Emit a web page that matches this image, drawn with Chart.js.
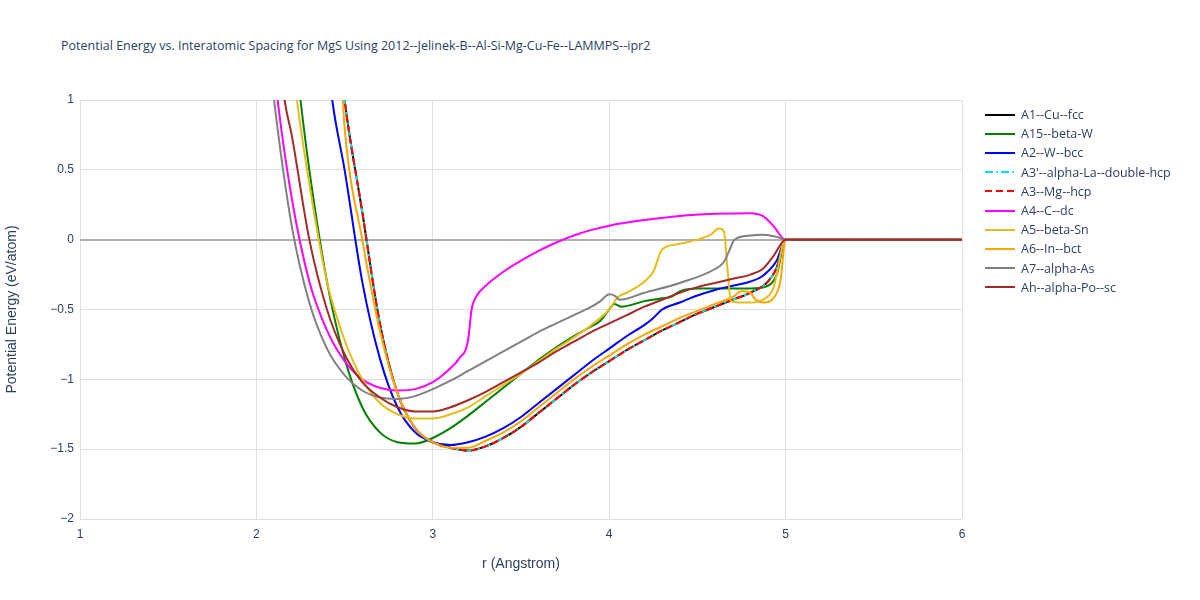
<!DOCTYPE html><html><head><meta charset="utf-8">
<script src="https://cdn.jsdelivr.net/npm/chart.js@4"></script>
<style>body{margin:0;background:#fff;font-family:"Open Sans",sans-serif}
#t{position:absolute;left:61px;top:37px;font-size:12.5px;color:#2a3f5f}
#lg{position:absolute;left:985px;top:105px;font-size:12.5px;color:#2a3f5f}
#lg div{height:19.2px;display:flex;align-items:center}
#lg canvas{margin-right:6px}
</style></head><body>
<div id="t">Potential Energy vs. Interatomic Spacing for MgS Using 2012--Jelinek-B--Al-Si-Mg-Cu-Fe--LAMMPS--ipr2</div>
<div style="position:absolute;left:0;top:0;width:1200px;height:600px"><canvas id="c" width="1200" height="600"></canvas></div>
<div id="lg"></div>
<script>
const labels=["A1--Cu--fcc","A15--beta-W","A2--W--bcc","A3'--alpha-La--double-hcp","A3--Mg--hcp","A4--C--dc","A5--beta-Sn","A6--In--bct","A7--alpha-As","Ah--alpha-Po--sc"];
const colors=["#000000","#008000","#0000ff","#00e5e5","#ff0000","#ff00ff","#e6bc1a","#ffa500","#808080","#a52a2a"];
const dashes=[[],[],[],[8,3,2,3],[7,4],[],[],[],[],[]];
const hcpR=[2.45,2.5,2.6,2.7,2.8,2.9,3.0,3.1,3.2,3.3,3.4,3.5,3.6,3.7,3.8,3.9,4.0,4.1,4.2,4.3,4.4,4.5,4.6,4.7,4.8,4.9,4.95,5.0,6.0];
const hcpE=[1.6,1.0,0.2,-0.6,-1.1,-1.35,-1.45,-1.49,-1.51,-1.48,-1.42,-1.34,-1.24,-1.14,-1.04,-0.95,-0.87,-0.79,-0.72,-0.65,-0.59,-0.53,-0.48,-0.43,-0.38,-0.30,-0.2,0,0];
const a15R=[2.2,2.25,2.3,2.4,2.5,2.6,2.7,2.8,2.9,3.0,3.1,3.2,3.3,3.4,3.5,3.6,3.7,3.8,3.9,3.95,4.0,4.03,4.07,4.2,4.3,4.35,4.4,4.5,4.8,4.9,4.95,5.0,6.0];
const a15E=[1.6,1.0,0.5,-0.3,-0.85,-1.2,-1.38,-1.45,-1.46,-1.42,-1.35,-1.26,-1.16,-1.06,-0.96,-0.86,-0.77,-0.69,-0.62,-0.58,-0.5,-0.46,-0.48,-0.44,-0.42,-0.41,-0.37,-0.35,-0.35,-0.33,-0.25,0,0];
const a2R=[2.38,2.43,2.5,2.6,2.7,2.8,2.9,3.0,3.1,3.2,3.3,3.4,3.5,3.6,3.7,3.8,3.9,4.0,4.1,4.2,4.25,4.3,4.4,4.5,4.6,4.7,4.8,4.87,4.95,5.0,6.0];
const a2E=[1.6,1.0,0.5,-0.3,-0.85,-1.2,-1.38,-1.45,-1.47,-1.45,-1.41,-1.35,-1.27,-1.17,-1.07,-0.97,-0.87,-0.78,-0.69,-0.61,-0.56,-0.50,-0.45,-0.40,-0.36,-0.33,-0.30,-0.26,-0.15,0,0];
const a4R=[2.07,2.12,2.2,2.3,2.4,2.5,2.6,2.7,2.8,2.9,3.0,3.1,3.15,3.2,3.22,3.25,3.3,3.4,3.5,3.6,3.7,3.8,3.9,4.0,4.2,4.4,4.6,4.8,4.87,4.93,5.0,6.0];
const a4E=[1.6,1.0,0.3,-0.3,-0.65,-0.87,-1.0,-1.06,-1.08,-1.07,-1.02,-0.92,-0.85,-0.72,-0.5,-0.4,-0.33,-0.23,-0.15,-0.08,-0.02,0.03,0.07,0.1,0.14,0.17,0.185,0.19,0.17,0.1,0,0];
const a5R=[2.18,2.23,2.3,2.4,2.5,2.6,2.7,2.8,2.9,3.0,3.1,3.2,3.3,3.4,3.5,3.6,3.7,3.8,3.9,4.0,4.05,4.1,4.2,4.25,4.3,4.4,4.5,4.58,4.62,4.65,4.67,4.69,4.75,4.8,4.87,4.93,5.0,6.0];
const a5E=[1.6,1.0,0.4,-0.3,-0.72,-1.0,-1.17,-1.25,-1.28,-1.28,-1.25,-1.2,-1.12,-1.04,-0.96,-0.87,-0.78,-0.7,-0.61,-0.5,-0.41,-0.38,-0.3,-0.23,-0.07,-0.03,0.0,0.04,0.08,0.06,-0.2,-0.44,-0.45,-0.45,-0.43,-0.35,0,0];
const a6R=[2.45,2.49,2.5,2.6,2.7,2.8,2.9,3.0,3.1,3.2,3.3,3.4,3.5,3.6,3.7,3.8,3.9,4.0,4.1,4.2,4.3,4.4,4.5,4.6,4.7,4.75,4.8,4.83,4.88,4.93,4.97,5.0,6.0];
const a6E=[1.6,1.0,0.8,0.0,-0.65,-1.1,-1.35,-1.45,-1.49,-1.49,-1.44,-1.38,-1.30,-1.2,-1.1,-1.0,-0.91,-0.83,-0.75,-0.68,-0.62,-0.56,-0.51,-0.46,-0.41,-0.37,-0.38,-0.43,-0.45,-0.42,-0.3,0,0];
const a7R=[2.05,2.1,2.2,2.3,2.4,2.5,2.6,2.7,2.8,2.9,3.0,3.1,3.2,3.3,3.4,3.5,3.6,3.7,3.8,3.9,3.95,4.0,4.03,4.06,4.2,4.4,4.6,4.65,4.68,4.71,4.8,4.87,4.95,5.0,6.0];
const a7E=[1.6,1.0,0.1,-0.45,-0.78,-0.97,-1.08,-1.13,-1.14,-1.12,-1.07,-1.01,-0.94,-0.87,-0.8,-0.73,-0.66,-0.6,-0.54,-0.48,-0.44,-0.39,-0.4,-0.43,-0.38,-0.31,-0.21,-0.16,-0.08,0.0,0.03,0.035,0.02,0,0];
const ahR=[2.11,2.16,2.2,2.3,2.4,2.5,2.6,2.7,2.8,2.9,3.0,3.1,3.2,3.3,3.4,3.5,3.6,3.7,3.8,3.9,4.0,4.1,4.2,4.3,4.4,4.5,4.6,4.7,4.8,4.87,4.93,5.0,6.0];
const ahE=[1.6,1.0,0.75,0.0,-0.5,-0.82,-1.02,-1.13,-1.2,-1.23,-1.23,-1.2,-1.15,-1.09,-1.02,-0.95,-0.88,-0.8,-0.73,-0.66,-0.6,-0.54,-0.48,-0.43,-0.38,-0.34,-0.31,-0.28,-0.25,-0.21,-0.12,0,0];
const xTicks=[1,2,3,4,5,6], yTicks=[1,0.5,0,-0.5,-1,-1.5,-2];
const series=[[hcpR,hcpE],[a15R,a15E],[a2R,a2E],[hcpR,hcpE],[hcpR,hcpE],[a4R,a4E],[a5R,a5E],[a6R,a6E],[a7R,a7E],[ahR,ahE]];
const fmt=v=>String(v).replace('-','\u2212');
const datasets=series.map((s,i)=>({label:labels[i],order:labels.length-i,data:s[0].map((r,j)=>({x:r,y:s[1][j]})),borderColor:colors[i],borderDash:dashes[i],borderWidth:2,pointRadius:0,cubicInterpolationMode:'monotone'}));
new Chart(document.getElementById('c'),{type:'line',data:{datasets},options:{responsive:false,animation:false,
layout:{padding:{top:100,right:238,left:0,bottom:23}},plugins:{legend:{display:false},tooltip:{enabled:false}},
scales:{x:{type:'linear',min:1,max:6,afterFit:s=>{s.height=58},afterBuildTicks:s=>{s.ticks=xTicks.map(v=>({value:v}))},
 grid:{color:'#e0e0e0',drawTicks:false},border:{display:false},ticks:{color:'#2a3f5f',font:{size:12},padding:8,callback:fmt},
 title:{display:true,text:'r (Angstrom)',color:'#2a3f5f',font:{size:14}}},
y:{min:-2,max:1,afterFit:s=>{s.width=80},afterBuildTicks:s=>{s.ticks=yTicks.map(v=>({value:v}))},
 grid:{color:c=>c.tick&&c.tick.value===0?'#b0b0b0':'#e0e0e0',lineWidth:c=>c.tick&&c.tick.value===0?2:1,drawTicks:false},border:{display:false},
 ticks:{color:'#2a3f5f',font:{size:12},padding:6,callback:fmt},
 title:{display:true,text:'Potential Energy (eV/atom)',color:'#2a3f5f',font:{size:14}}}}}});
const lg=document.getElementById('lg');
labels.forEach((l,i)=>{const d=document.createElement('div');const cv=document.createElement('canvas');cv.width=30;cv.height=10;
const x=cv.getContext('2d');x.strokeStyle=colors[i];x.lineWidth=2;x.setLineDash(dashes[i]);x.beginPath();x.moveTo(0,5);x.lineTo(30,5);x.stroke();
d.appendChild(cv);d.appendChild(document.createTextNode(l));lg.appendChild(d);});
</script></body></html>
